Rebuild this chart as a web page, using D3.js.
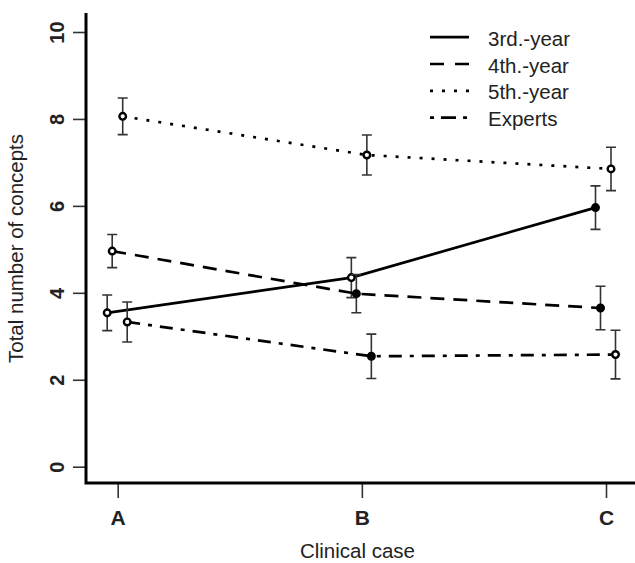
<!DOCTYPE html>
<html>
<head>
<meta charset="utf-8">
<script src="https://cdn.jsdelivr.net/npm/d3@7"></script>
<style>
  html, body { margin: 0; padding: 0; background: #fff; }
  svg { display: block; }
  text { font-family: "Liberation Sans", Arial, sans-serif; fill: #222; }
</style>
</head>
<body>
<svg id="chart" width="635" height="563"></svg>
<script>
// Clinical cases on the x axis
const categories = ["A", "B", "C"];
// Groups of participants
const seriesNames = ["3rd.-year", "4th.-year", "5th.-year", "Experts"];
// Mean total number of concepts per clinical case
const thirdYear  = [3.54, 4.35, 5.96];
const fourthYear = [4.96, 3.98, 3.65];
const fifthYear  = [8.06, 7.17, 6.85];
const experts    = [3.33, 2.54, 2.58];
// Half-widths of the error bars
const thirdYearErr  = [0.41, 0.46, 0.50];
const fourthYearErr = [0.38, 0.44, 0.50];
const fifthYearErr  = [0.42, 0.46, 0.50];
const expertsErr    = [0.46, 0.51, 0.56];
// Y axis tick values
const yTicks = [0, 2, 4, 6, 8, 10];

const means = [thirdYear, fourthYear, fifthYear, experts];
const errs = [thirdYearErr, fourthYearErr, fifthYearErr, expertsErr];

// Drawing style per group: dash pattern, horizontal dodge, filled markers
const styles = [
  { dash: null,            dodge: -10.5, filled: [false, false, true] },
  { dash: "14,9",          dodge: -5.5,  filled: [false, true, true] },
  { dash: "3,9",           dodge: 5,     filled: [false, false, false] },
  { dash: "13,8,4,8",      dodge: 9.5,   filled: [false, true, false] }
];
const legendDash = [null, "14,11", "3,9", "4,7,15,7"];

const svg = d3.select("#chart");
const box = { left: 86, right: 635, top: 13, bottom: 483 };

const x = d3.scalePoint().domain(categories).range([117.7, 606]);
const y = d3.scaleLinear().domain([0, 10]).range([466.7, 32]);

// axes
const yAxis = d3.axisLeft(y).tickValues(yTicks).tickSize(13).tickFormat(d3.format("d"));
const gy = svg.append("g").attr("transform", `translate(${box.left},0)`).call(yAxis);
gy.select(".domain").remove();
gy.selectAll(".tick line").attr("stroke", "#333").attr("stroke-width", 1.6);
gy.selectAll(".tick text")
  .attr("x", null).attr("dy", null)
  .attr("transform", "translate(-22.5,0) rotate(-90)")
  .attr("text-anchor", "middle")
  .style("font-size", "20px").style("font-weight", "bold")
  .style("font-family", "'Liberation Sans', Arial, sans-serif").attr("fill", "#111");

const xAxis = d3.axisBottom(x).tickSize(15);
const gx = svg.append("g").attr("transform", `translate(0,${box.bottom})`).call(xAxis);
gx.select(".domain").remove();
gx.selectAll(".tick line").attr("stroke", "#333").attr("stroke-width", 1.6);
gx.selectAll(".tick text")
  .attr("y", 42).attr("dy", null)
  .style("font-size", "21px").style("font-weight", "bold")
  .style("font-family", "'Liberation Sans', Arial, sans-serif").attr("fill", "#111");

// axis frame lines (left and bottom)
svg.append("path")
  .attr("d", `M${box.left},${box.top}V${box.bottom}H${box.right}`)
  .attr("fill", "none").attr("stroke", "#000").attr("stroke-width", 3);

// axis titles
svg.append("text")
  .attr("transform", `translate(22.5,248.5) rotate(-90)`)
  .attr("text-anchor", "middle")
  .style("font-size", "20.5px")
  .text("Total number of concepts");
svg.append("text")
  .attr("x", 357.5).attr("y", 558)
  .attr("text-anchor", "middle")
  .style("font-size", "20.5px")
  .text("Clinical case");

// series lines, error bars and markers
const line = d3.line().x(d => d.x).y(d => y(d.v));
means.forEach((vals, s) => {
  const st = styles[s];
  const pts = vals.map((v, i) => ({ x: x(categories[i]) + st.dodge, v, e: errs[s][i], filled: st.filled[i] }));
  svg.append("path")
    .datum(pts)
    .attr("d", line)
    .attr("fill", "none")
    .attr("stroke", "#000")
    .attr("stroke-width", 2.7)
    .attr("stroke-dasharray", st.dash);

  const g = svg.append("g");
  g.selectAll("path.err").data(pts).join("path")
    .attr("class", "err")
    .attr("d", d => `M${d.x},${y(d.v + d.e)}V${y(d.v - d.e)}M${d.x - 5},${y(d.v + d.e)}h10M${d.x - 5},${y(d.v - d.e)}h10`)
    .attr("fill", "none").attr("stroke", "#333").attr("stroke-width", 1.6);
  g.selectAll("circle").data(pts).join("circle")
    .attr("cx", d => d.x).attr("cy", d => y(d.v))
    .attr("r", 3.3)
    .attr("fill", d => d.filled ? "#000" : "#fff")
    .attr("stroke", "#000").attr("stroke-width", 2.4);
});

// legend
const legend = svg.append("g");
seriesNames.forEach((name, i) => {
  const base = 45.7 + i * 26.8;
  legend.append("line")
    .attr("x1", 430).attr("x2", 469)
    .attr("y1", base - 8.5).attr("y2", base - 8.5)
    .attr("stroke", "#000").attr("stroke-width", 2.7)
    .attr("stroke-dasharray", legendDash[i]);
  legend.append("text")
    .attr("x", 488).attr("y", base)
    .style("font-size", "20.5px")
    .text(name);
});
</script>
</body>
</html>
